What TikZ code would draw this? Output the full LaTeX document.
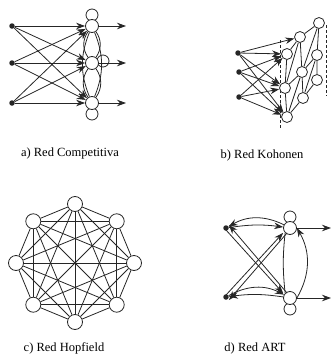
\documentclass[tikz,border=0pt]{standalone}
\usepackage{fontspec}
\setmainfont{Liberation Serif}
\usetikzlibrary{arrows.meta}
\pgfdeclarelayer{bg}
\pgfsetlayers{bg,main}
\tikzset{
  ink/.style={draw=black!85, line width=0.8pt},
  inp/.style={circle, fill=black!85, inner sep=0pt, minimum size=5.5pt},
  neu/.style={circle, ink, fill=white, inner sep=0pt, minimum size=13pt},
  neuh/.style={circle, ink, fill=white, inner sep=0pt, minimum size=15pt},
  neuk/.style={circle, ink, fill=white, inner sep=0pt, minimum size=11pt},
  loopc/.style={circle, ink, inner sep=0pt, minimum size=12pt},
  arr/.style={ink, -{Stealth[length=9pt,width=6.5pt]}},
  lnk/.style={ink},
  lbl/.style={font=\fontsize{12.5}{14}\selectfont, inner sep=0pt}
}
\begin{document}
\begin{tikzpicture}[x=1pt,y=-1pt]
\useasboundingbox (0,0) rectangle (332,354);

% ---------------- a) Competitiva ----------------
\node[inp] (a1) at (12,26) {};
\node[inp] (a2) at (12,63) {};
\node[inp] (a3) at (12,103) {};
\node[neu] (ao1) at (92,26) {};
\node[neu] (ao2) at (92,63) {};
\node[neu] (ao3) at (92,103) {};
\begin{pgfonlayer}{bg}
\node[loopc] (al1) at (92,15) {};
\node[loopc] (al3) at (92,114) {};
\node[loopc] (al2) at (103,61) {};
\draw[lnk] (ao1) to[bend left=35] (ao2);
\draw[lnk] (ao1) to[bend right=35] (ao2);
\draw[lnk] (ao2) to[bend left=35] (ao3);
\draw[lnk] (ao2) to[bend right=35] (ao3);
\draw[lnk] (ao1) to[bend left=22] (ao3);
\draw[lnk] (ao1) to[bend right=22] (ao3);
\end{pgfonlayer}
\foreach \i in {1,2,3}{
  \foreach \k in {1,2,3}{
    \draw[arr] (a\i) -- (ao\k);
  }
}
\coordinate (ae1) at (126,26);
\coordinate (ae2) at (126,63);
\coordinate (ae3) at (126,103);
\draw[arr] (ao1) -- (ae1);
\draw[arr] (ao2) -- (ae2);
\draw[arr] (ao3) -- (ae3);
\node[lbl] (la) at (70,153) {a) Red Competitiva};

% ---------------- b) Kohonen ----------------
\node[inp] (k1) at (238,53) {};
\node[inp] (k2) at (239,72) {};
\node[inp] (k3) at (239,97) {};
\node[neuk] (gA) at (319,23) {};
\node[neuk] (gB) at (300,37) {};
\node[neuk] (gC) at (287,54) {};
\node[neuk] (gD) at (317,55) {};
\node[neuk] (gE) at (302,72) {};
\node[neuk] (gF) at (285,88) {};
\node[neuk] (gG) at (317,80) {};
\node[neuk] (gH) at (303,98) {};
\node[neuk] (gI) at (287,117) {};
\coordinate (dl1) at (280,40);
\coordinate (dl2) at (280,128);
\coordinate (dr1) at (326,25);
\coordinate (dr2) at (326,96);
\begin{pgfonlayer}{bg}
\draw[ink, dashed, dash pattern=on 3pt off 2pt] (dl1) -- (dl2);
\draw[ink, dashed, dash pattern=on 3pt off 2pt] (dr1) -- (dr2);
\end{pgfonlayer}
\draw[lnk] (gA) -- (gB) (gB) -- (gC);
\draw[lnk] (gD) -- (gE) (gE) -- (gF);
\draw[lnk] (gG) -- (gH) (gH) -- (gI);
\draw[lnk] (gA) -- (gD) (gD) -- (gG);
\draw[lnk] (gB) -- (gE) (gE) -- (gH);
\draw[lnk] (gC) -- (gF) (gF) -- (gI);
\draw[lnk] (gB) -- (gF) (gE) -- (gI) (gA) -- (gE) (gD) -- (gH);
\draw[arr] (k1) -- (gB);
\foreach \i in {1,2,3}{
  \draw[arr] (k\i) -- (gC);
  \draw[arr] (k\i) -- (gF);
  \draw[arr] (k\i) -- (gI);
}
\node[lbl] (lb) at (262,155) {b) Red Kohonen};

% ---------------- c) Hopfield ----------------
\foreach \i in {1,...,8}{
  \node[neuh] (h\i) at ({75+59*cos(45*\i)},{263+59*sin(45*\i)}) {};
}
\begin{pgfonlayer}{bg}
\foreach \i in {1,...,7}{
  \pgfmathtruncatemacro\ii{\i+1}
  \foreach \j in {\ii,...,8}{
    \draw[lnk] (h\i) -- (h\j);
  }
}
\end{pgfonlayer}
\node[lbl] (lc) at (64,348) {c) Red Hopfield};

% ---------------- d) ART ----------------
\node[inp] (d1) at (226,228) {};
\node[inp] (d2) at (226,297) {};
\node[neu] (n1) at (290,228) {};
\node[neu] (n2) at (290,298) {};
\begin{pgfonlayer}{bg}
\node[loopc] (nl1) at (290,217) {};
\node[loopc] (nl2) at (290,309) {};
\end{pgfonlayer}
\coordinate (ne1) at (331,228);
\coordinate (ne2) at (331,298);
\draw[arr] (n1) -- (ne1);
\draw[arr] (n2) -- (ne2);
% top pair
\draw[arr] (n1) to[bend right=28] (d1);
\draw[arr] (d1) to[bend left=8] (n1);
% bottom pair
\draw[arr] (d2) to[bend left=28] (n2);
\draw[arr] (n2) to[bend right=8] (d2);
% crossings
\draw[arr] ([yshift=-2pt]d1.center) -- ([xshift=-2pt]n2.north west);
\draw[arr] ([xshift=2pt]n2.north west) -- ([yshift=3pt]d1.east);
\draw[arr] ([yshift=2pt]d2.center) -- ([xshift=-2pt]n1.south west);
\draw[arr] ([xshift=2pt]n1.south west) -- ([yshift=-3pt]d2.east);
% between neurons
\draw[arr] (n2.east) to[bend right=30] (n1.east);
\draw[lnk] (n1.south west) to[bend right=6] (n2.north west);
\node[lbl] (ld) at (255,348) {d) Red ART};
\end{tikzpicture}
\end{document}
